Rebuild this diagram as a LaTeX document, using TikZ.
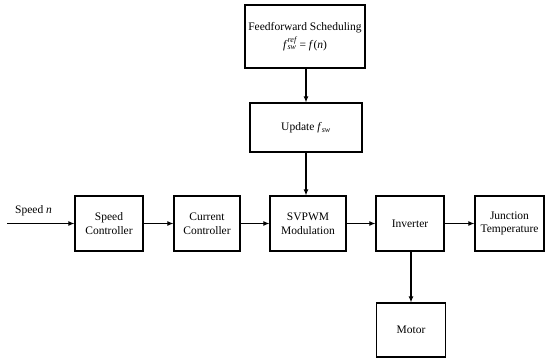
\documentclass[tikz,border=0pt]{standalone}
\usepackage{amsmath}
\usepackage{fontspec}
\setmainfont{Liberation Serif}
\usetikzlibrary{arrows.meta}
\newcommand{\itx}[1]{\textit{#1}}
\begin{document}
\begin{tikzpicture}[x=1pt,y=-1pt,
  blk/.style={draw,line width=1.2pt,inner sep=0pt,align=center,font=\fontsize{11.5}{13.5}\selectfont},
  arr/.style={-{Latex[length=6pt,width=5pt]},line width=1.1pt}]
\useasboundingbox (0,0) rectangle (550,364);
\node[blk,minimum width=120pt,minimum height=63pt] (ff) at (305,36.5) {Feedforward Scheduling\\[3pt] \itx{f}$_{\itx{sw}}^{\itx{ref}}$ = \itx{f}(\itx{n})};
\node[blk,minimum width=112pt,minimum height=49pt] (up) at (306,127.5) {Update \itx{f}$_{\itx{sw}}$};
\node[blk,minimum width=68pt,minimum height=55pt] (sc) at (109,223.5) {Speed\\Controller};
\node[blk,minimum width=66pt,minimum height=55pt] (cc) at (207,223.5) {Current\\Controller};
\node[blk,minimum width=76pt,minimum height=55pt] (sv) at (308,223.5) {SVPWM\\Modulation};
\node[blk,minimum width=68pt,minimum height=55pt] (inv) at (410,223.5) {Inverter};
\node[blk,minimum width=69pt,minimum height=55pt] (jt) at (509.5,223.5) {Junction\\Temperature};
\node[blk,minimum width=69pt,minimum height=54pt] (mo) at (411,330) {Motor};
\coordinate (in) at (7,223.5);
\node[font=\fontsize{11.5}{13.5}\selectfont,anchor=south west,inner sep=0pt] (lab) at (15,216) {Speed \itx{n}};
\draw[arr] (in) -- (sc);
\draw[arr] (sc) -- (cc);
\draw[arr] (cc) -- (sv);
\draw[arr] (sv) -- (inv);
\draw[arr] (inv) -- (jt);
\draw[arr] (ff.south -| up.north) -- (up.north);
\draw[arr] (up.south) -- (up.south |- sv.north);
\draw[arr] (inv.south -| mo.north) -- (mo.north);
\end{tikzpicture}
\end{document}
